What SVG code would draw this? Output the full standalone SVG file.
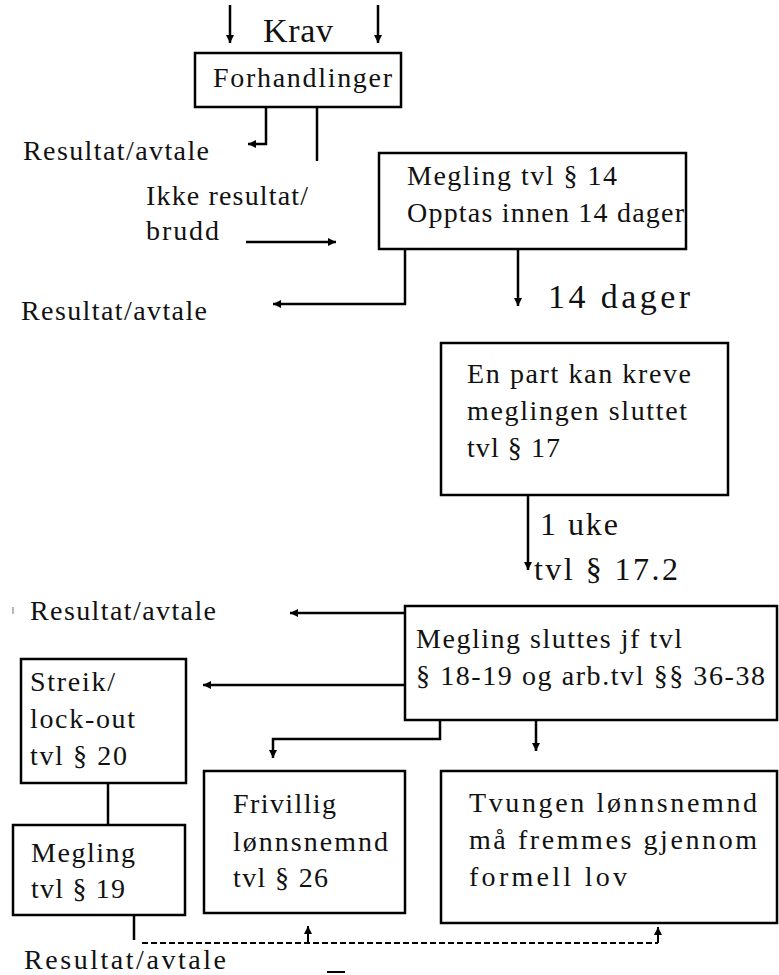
<svg xmlns="http://www.w3.org/2000/svg" width="779" height="975" viewBox="0 0 779 975" font-family="'Liberation Serif', 'Times New Roman', serif">
<defs>
<marker id="ah" viewBox="0 0 10 10" refX="10" refY="5" markerWidth="9" markerHeight="8" markerUnits="userSpaceOnUse" orient="auto">
<path d="M0,0 L10,5 L0,10 z" fill="#000"/>
</marker>
<style>
text{font-family:'Liberation Serif','Times New Roman',serif;fill:#111;font-size:28px}
.big{font-size:32px}
.huge{font-size:34px}
.box{fill:#fff;stroke:#000;stroke-width:2.5}
.c{fill:none;stroke:#000;stroke-width:2.5}
.a{marker-end:url(#ah)}
.d{fill:none;stroke:#000;stroke-width:2;stroke-dasharray:6,3}
</style>
</defs>
<rect width="779" height="975" fill="#fff"/>

<g id="connectors">
<path class="c a" d="M230 5 V43"/>
<path class="c a" d="M378 5 V43"/>
<path class="c a" d="M266 107 V144 H248"/>
<path class="c" d="M317 107 V161"/>
<path class="c a" d="M246 242 H336"/>
<path class="c a" d="M405 249 V304 H273"/>
<path class="c a" d="M518 249 V306"/>
<path class="c a" d="M528 495 V570"/>
<path class="c a" d="M405 613 H290"/>
<path class="c a" d="M405 685 H203"/>
<path class="c a" d="M440 720 V739 H273 V758"/>
<path class="c a" d="M536 720 V751"/>
<path class="c" d="M108 783 V825"/>
<path class="c" d="M134 915 V940"/>
<path class="d" d="M142 943 H658"/>
<path class="c a" d="M308 943 V926" style="stroke-width:2"/>
<path class="c a" d="M658 943 V927" style="stroke-width:2"/>
<line x1="13" y1="607" x2="13" y2="614" stroke="#888" stroke-width="1.2"/>
<line x1="327" y1="972" x2="345" y2="972" stroke="#000" stroke-width="2"/>
</g>

<g id="krav"><text class="huge" x="263" y="42" textLength="70">Krav</text></g>

<g id="forhandlinger">
<rect class="box" x="195" y="53" width="206" height="54"/>
<text x="213" y="87" textLength="179">Forhandlinger</text>
</g>

<g id="resultat1"><text x="23" y="160" textLength="186">Resultat/avtale</text></g>

<g id="ikke-resultat">
<text x="146" y="205" textLength="162">Ikke resultat/</text>
<text x="146" y="240" textLength="73">brudd</text>
</g>

<g id="megling14">
<rect class="box" x="379" y="153" width="307" height="96"/>
<text x="407" y="185" textLength="210">Megling tvl § 14</text>
<text x="407" y="222" textLength="277">Opptas innen 14 dager</text>
</g>

<g id="resultat2"><text x="21" y="320" textLength="186">Resultat/avtale</text></g>

<g id="dager14"><text class="huge" x="548" y="308" textLength="142">14 dager</text></g>

<g id="enpart">
<rect class="box" x="441" y="343" width="287" height="152"/>
<text x="467" y="383" textLength="224">En part kan kreve</text>
<text x="467" y="420" textLength="220">meglingen sluttet</text>
<text x="467" y="457" textLength="93">tvl § 17</text>
</g>

<g id="uke">
<text class="big" x="540" y="535" textLength="78">1 uke</text>
<text class="big" x="534" y="580" textLength="144">tvl § 17.2</text>
</g>

<g id="resultat3"><text x="30" y="620" textLength="186">Resultat/avtale</text></g>

<g id="megling-sluttes">
<rect class="box" x="405" y="606" width="372" height="114"/>
<text x="416" y="648" textLength="266">Megling sluttes jf tvl</text>
<text x="416" y="685" textLength="349">§ 18-19 og arb.tvl §§ 36-38</text>
</g>

<g id="streik">
<rect class="box" x="21" y="659" width="165" height="124"/>
<text x="30" y="691" textLength="85">Streik/</text>
<text x="30" y="728" textLength="105">lock-out</text>
<text x="30" y="765" textLength="97">tvl § 20</text>
</g>

<g id="megling19">
<rect class="box" x="13" y="825" width="172" height="90"/>
<text x="31" y="862" textLength="104">Megling</text>
<text x="31" y="898" textLength="94">tvl § 19</text>
</g>

<g id="frivillig">
<rect class="box" x="204" y="771" width="201" height="142"/>
<text x="233" y="813" textLength="103">Frivillig</text>
<text x="233" y="851" textLength="155">lønnsnemnd</text>
<text x="233" y="887" textLength="95">tvl § 26</text>
</g>

<g id="tvungen">
<rect class="box" x="441" y="771" width="336" height="152"/>
<text x="469" y="812" textLength="288">Tvungen lønnsnemnd</text>
<text x="469" y="849" textLength="288">må fremmes gjennom</text>
<text x="469" y="886" textLength="158">formell lov</text>
</g>

<g id="resultat4"><text x="24" y="969" textLength="202">Resultat/avtale</text></g>
</svg>
